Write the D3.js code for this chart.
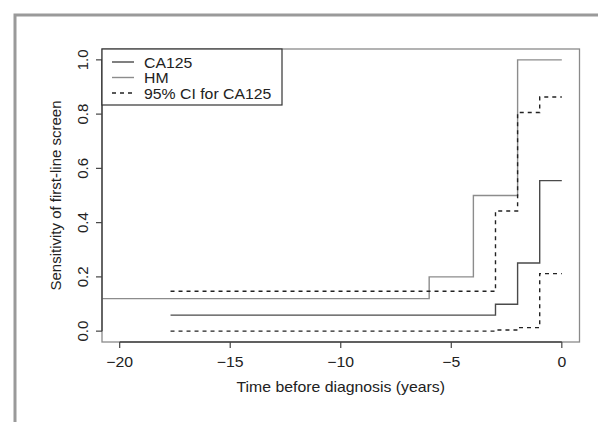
<!DOCTYPE html>
<html>
<head>
  <meta charset="utf-8">
  <script src="https://cdn.jsdelivr.net/npm/d3@7"></script>
  <style>
    body { margin: 0; background: #fff; }
    text { font-family: "Liberation Sans", Arial, sans-serif; fill: #222; }
  </style>
</head>
<body>
<script>
  // step curves (time in years before diagnosis)
  var ca125Time = [-17.7, -3, -2, -1, 0];
  var ca125Sens = [0.059, 0.099, 0.251, 0.555, 0.555];
  var hmTime = [-21.5, -6, -4, -2, 0];
  var hmSens = [0.12, 0.2, 0.5, 1.0, 1.0];
  var ciTime = [-17.7, -3, -2, -1, 0];
  var ciLower = [0.0, 0.004, 0.013, 0.212, 0.212];
  var ciUpper = [0.147, 0.443, 0.806, 0.863, 0.863];

  var xTicks = [-20, -15, -10, -5, 0];
  var yTicks = [0.0, 0.2, 0.4, 0.6, 0.8, 1.0];
  var legendLabels = ["CA125", "HM", "95% CI for CA125"];

  var W = 598, H = 422;
  var plot = {left: 102, right: 579.5, top: 49, bottom: 342};
  var stretch = 1.09; // the figure's horizontal text is a bit wider than the font

  var svg = d3.select("body").append("svg")
      .attr("width", W).attr("height", H);

  // widen horizontal text a little to match the scanned figure
  function widen(sel) {
    sel.each(function() {
      var w = this.getComputedTextLength();
      d3.select(this).attr("textLength", w * stretch).attr("lengthAdjust", "spacingAndGlyphs");
    });
  }

  // outer frame (cropped figure border)
  svg.append("rect")
      .attr("x", 15).attr("y", 15)
      .attr("width", W).attr("height", H)
      .attr("fill", "none").attr("stroke", "#9a9a9a").attr("stroke-width", 3);

  var x = d3.scaleLinear().domain([-20.8, 0.8]).range([plot.left, plot.right]);
  var y = d3.scaleLinear().domain([-0.04, 1.04]).range([plot.bottom, plot.top]);

  svg.append("clipPath").attr("id", "clip")
    .append("rect")
      .attr("x", plot.left).attr("y", plot.top)
      .attr("width", plot.right - plot.left).attr("height", plot.bottom - plot.top);

  var line = d3.line()
      .x(function(d) { return x(d[0]); })
      .y(function(d) { return y(d[1]); })
      .curve(d3.curveStepAfter);

  function pairs(t, s) {
    return t.map(function(v, i) { return [v, s[i]]; });
  }

  var g = svg.append("g").attr("clip-path", "url(#clip)");

  var series = [
    {pts: pairs(hmTime, hmSens), color: "#8c8c8c", dash: null},
    {pts: pairs(ciTime, ciUpper), color: "#222", dash: "4,4"},
    {pts: pairs(ciTime, ciLower), color: "#222", dash: "4,4"},
    {pts: pairs(ca125Time, ca125Sens), color: "#4a4a4a", dash: null}
  ];

  series.forEach(function(s) {
    g.append("path")
        .attr("d", line(s.pts))
        .attr("fill", "none")
        .attr("stroke", s.color)
        .attr("stroke-width", 1.4)
        .attr("stroke-dasharray", s.dash);
  });

  // plot box
  svg.append("rect")
      .attr("x", plot.left).attr("y", plot.top)
      .attr("width", plot.right - plot.left).attr("height", plot.bottom - plot.top)
      .attr("fill", "none").attr("stroke", "#8a8a8a").attr("stroke-width", 1.3);

  // axes, R style: line only spans the ticks
  var xAxis = svg.append("g");
  xAxis.append("line")
      .attr("x1", x(-20)).attr("x2", x(0))
      .attr("y1", plot.bottom).attr("y2", plot.bottom)
      .attr("stroke", "#444").attr("stroke-width", 1.4);
  xTicks.forEach(function(t) {
    xAxis.append("line")
        .attr("x1", x(t)).attr("x2", x(t))
        .attr("y1", plot.bottom).attr("y2", plot.bottom + 6)
        .attr("stroke", "#444").attr("stroke-width", 1.2);
    xAxis.append("text")
        .attr("x", x(t)).attr("y", 367)
        .attr("text-anchor", "middle")
        .attr("font-size", "14.5px")
        .text(t < 0 ? "\u2212" + Math.abs(t) : t)
        .call(widen);
  });

  var yAxis = svg.append("g");
  yAxis.append("line")
      .attr("x1", plot.left).attr("x2", plot.left)
      .attr("y1", y(0)).attr("y2", y(1))
      .attr("stroke", "#444").attr("stroke-width", 1.4);
  yTicks.forEach(function(t) {
    yAxis.append("line")
        .attr("x1", plot.left - 6).attr("x2", plot.left)
        .attr("y1", y(t)).attr("y2", y(t))
        .attr("stroke", "#444").attr("stroke-width", 1.2);
    yAxis.append("text")
        .attr("transform", "translate(88," + y(t) + ") rotate(-90)")
        .attr("text-anchor", "middle")
        .attr("font-size", "15px")
        .text(t.toFixed(1));
  });

  svg.append("text")
      .attr("x", x(-10)).attr("y", 392)
      .attr("text-anchor", "middle")
      .attr("font-size", "14.5px")
      .text("Time before diagnosis (years)")
      .call(widen);

  svg.append("text")
      .attr("transform", "translate(61," + ((plot.top + plot.bottom) / 2) + ") rotate(-90)")
      .attr("text-anchor", "middle")
      .attr("font-size", "15px")
      .text("Sensitivity of first-line screen");

  // legend
  var legend = svg.append("g").attr("transform", "translate(" + plot.left + "," + plot.top + ")");
  legend.append("rect")
      .attr("width", 180).attr("height", 56)
      .attr("fill", "#fff").attr("stroke", "#333").attr("stroke-width", 1.2);
  var legendStyle = [
    {color: "#4a4a4a", dash: null},
    {color: "#8c8c8c", dash: null},
    {color: "#222", dash: "4,4"}
  ];
  legendLabels.forEach(function(lab, i) {
    var cy = 13 + i * 15.5;
    legend.append("line")
        .attr("x1", 10).attr("x2", 32)
        .attr("y1", cy).attr("y2", cy)
        .attr("stroke", legendStyle[i].color)
        .attr("stroke-width", 1.4)
        .attr("stroke-dasharray", legendStyle[i].dash);
    legend.append("text")
        .attr("x", 42).attr("y", cy + 5.5)
        .attr("font-size", "14.5px")
        .text(lab)
        .call(widen);
  });
</script>
</body>
</html>
